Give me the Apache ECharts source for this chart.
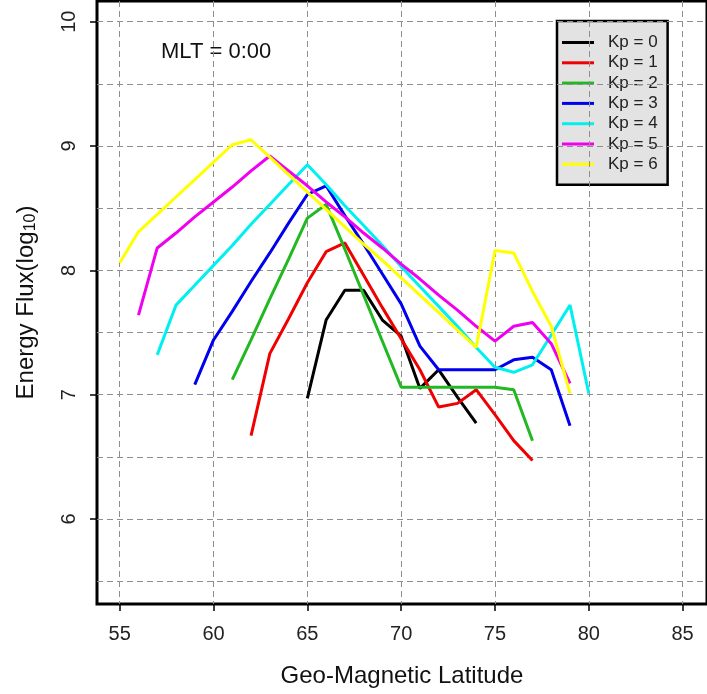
<!DOCTYPE html>
<html>
<head>
<meta charset="utf-8">
<script src="https://cdn.jsdelivr.net/npm/echarts@6/dist/echarts.min.js"></script>
<style>
  html, body { margin: 0; padding: 0; background: #fff; }
  #chart { width: 707px; height: 694px; }
</style>
</head>
<body>
<div id="chart"></div>
<script>
// Energy flux (log10) against geomagnetic latitude at MLT 0:00, one curve per Kp level
const kpNames = ['Kp = 0', 'Kp = 1', 'Kp = 2', 'Kp = 3', 'Kp = 4', 'Kp = 5', 'Kp = 6'];
const kpColors = ['#000000', '#f00000', '#22b822', '#0000ee', '#00f0f0', '#f000f0', '#ffff00'];

const kp0 = [[65, 6.97], [66, 7.60], [67, 7.84], [68, 7.84], [69, 7.60], [70, 7.47], [71, 7.05], [72, 7.20], [73, 6.98], [74, 6.77]];
const kp1 = [[62, 6.67], [63, 7.33], [64, 7.61], [65, 7.90], [66, 8.15], [67, 8.22], [68, 7.96], [69, 7.70], [70, 7.45], [71, 7.20], [72, 6.90], [73, 6.93], [74, 7.04], [75, 6.84], [76, 6.63], [77, 6.47]];
const kp2 = [[61, 7.12], [62, 7.44], [63, 7.77], [64, 8.09], [65, 8.42], [66, 8.53], [67, 8.17], [68, 7.80], [69, 7.43], [70, 7.06], [71, 7.06], [72, 7.06], [73, 7.06], [74, 7.06], [75, 7.06], [76, 7.04], [77, 6.63]];
const kp3 = [[59, 7.08], [60, 7.44], [61, 7.67], [62, 7.91], [63, 8.14], [64, 8.38], [65, 8.61], [66, 8.68], [67, 8.44], [68, 8.21], [69, 7.97], [70, 7.73], [71, 7.39], [72, 7.20], [73, 7.20], [74, 7.20], [75, 7.20], [76, 7.28], [77, 7.30], [78, 7.20], [79, 6.75]];
const kp4 = [[57, 7.32], [58, 7.72], [59, 7.88], [60, 8.04], [61, 8.20], [62, 8.37], [63, 8.53], [64, 8.69], [65, 8.85], [66, 8.69], [67, 8.52], [68, 8.36], [69, 8.20], [70, 8.03], [71, 7.87], [72, 7.71], [73, 7.55], [74, 7.38], [75, 7.22], [76, 7.18], [77, 7.24], [78, 7.48], [79, 7.72], [80, 7.01]];
const kp5 = [[56, 7.64], [57, 8.18], [58, 8.30], [59, 8.43], [60, 8.55], [61, 8.67], [62, 8.80], [63, 8.92], [64, 8.80], [65, 8.68], [66, 8.55], [67, 8.43], [68, 8.30], [69, 8.18], [70, 8.05], [71, 7.93], [72, 7.80], [73, 7.68], [74, 7.55], [75, 7.43], [76, 7.55], [77, 7.58], [78, 7.41], [79, 7.09]];
const kp6 = [[55, 8.06], [56, 8.31], [57, 8.45], [58, 8.59], [59, 8.73], [60, 8.87], [61, 9.01], [62, 9.05], [63, 8.91], [64, 8.77], [65, 8.63], [66, 8.49], [67, 8.35], [68, 8.21], [69, 8.08], [70, 7.94], [71, 7.80], [72, 7.66], [73, 7.52], [74, 7.38], [75, 8.16], [76, 8.14], [77, 7.83], [78, 7.55], [79, 7.01]];

const xTicks = [55, 60, 65, 70, 75, 80, 85];
const yTicks = [6, 7, 8, 9, 10];
// horizontal reference lines every half decade
const yGrid = [5.5, 6, 6.5, 7, 7.5, 8, 8.5, 9, 9.5, 10];

const allSeries = [kp0, kp1, kp2, kp3, kp4, kp5, kp6];

const chart = echarts.init(document.getElementById('chart'), null, { renderer: 'canvas' });

const dashed = { show: true, lineStyle: { color: '#8e8e8e', width: 1, type: [6, 4] } };
const font = 'Liberation Sans, Arial, sans-serif';
const yMin = 5.316, yMax = 10.1665;

chart.setOption({
  animation: false,
  backgroundColor: '#ffffff',
  textStyle: { fontFamily: font },
  title: {
    text: 'MLT = 0:00',
    left: 156, top: 36,
    textStyle: { fontFamily: font, fontSize: 22, fontWeight: 'normal', color: '#111' }
  },
  grid: {
    left: 97, top: 1, width: 618.7, height: 603,
    show: true, borderColor: '#000', borderWidth: 3, backgroundColor: 'transparent',
    z: 2
  },
  // grey legend box, drawn beneath the dashed reference lines
  legend: {
    data: kpNames,
    orient: 'vertical',
    left: 557, top: 21,
    padding: [13, 10, 12, 5],
    icon: 'rect',
    itemWidth: 32, itemHeight: 3, itemGap: 3.3,
    backgroundColor: '#e3e3e3',
    borderColor: '#000', borderWidth: 2.5, borderRadius: 0,
    z: -10,
    textStyle: { fontFamily: font, fontSize: 17, lineHeight: 17, color: '#222', padding: [0, 0, 0, 9] }
  },
  xAxis: {
    type: 'value', min: 53.79, max: 86.3, interval: 5, z: 10,
    axisLine: { show: false },
    axisTick: { show: true, length: 7, customValues: xTicks, lineStyle: { color: '#000', width: 1.5 } },
    axisLabel: { customValues: xTicks, margin: 20, fontSize: 20, color: '#222', fontFamily: font },
    splitLine: dashed,
    name: 'Geo-Magnetic Latitude', nameLocation: 'middle', nameGap: 60,
    nameTextStyle: { fontSize: 24, color: '#111', fontFamily: font }
  },
  yAxis: [{
    type: 'value', min: yMin, max: yMax, z: 10, position: 'left',
    axisLine: { show: false },
    axisTick: { show: true, length: 7, customValues: yTicks, lineStyle: { color: '#000', width: 1.5 } },
    axisLabel: { customValues: yTicks, rotate: 90, margin: 18, fontSize: 20, color: '#222', fontFamily: font },
    splitLine: { show: false },
    name: 'Energy Flux(log{sub|10})', nameLocation: 'middle', nameGap: 58, nameRotate: 90,
    nameTextStyle: {
      fontSize: 24, color: '#111', fontFamily: font,
      rich: { sub: { fontSize: 16, verticalAlign: 'bottom', padding: [10, 0, 0, 0], color: '#111', fontFamily: font } }
    }
  }, {
    type: 'value', min: yMin, max: yMax, z: 10, position: 'left', offset: 0,
    axisLine: { show: false },
    axisTick: { show: false, customValues: yGrid },
    axisLabel: { show: false, customValues: yGrid },
    splitLine: dashed
  }],
  series: allSeries.map((d, i) => ({
    name: kpNames[i],
    type: 'line',
    data: d,
    yAxisIndex: 0,
    symbol: 'none',
    z: 12,
    lineStyle: { color: kpColors[i], width: 3 },
    itemStyle: { color: kpColors[i] }
  }))
});
</script>
</body>
</html>
